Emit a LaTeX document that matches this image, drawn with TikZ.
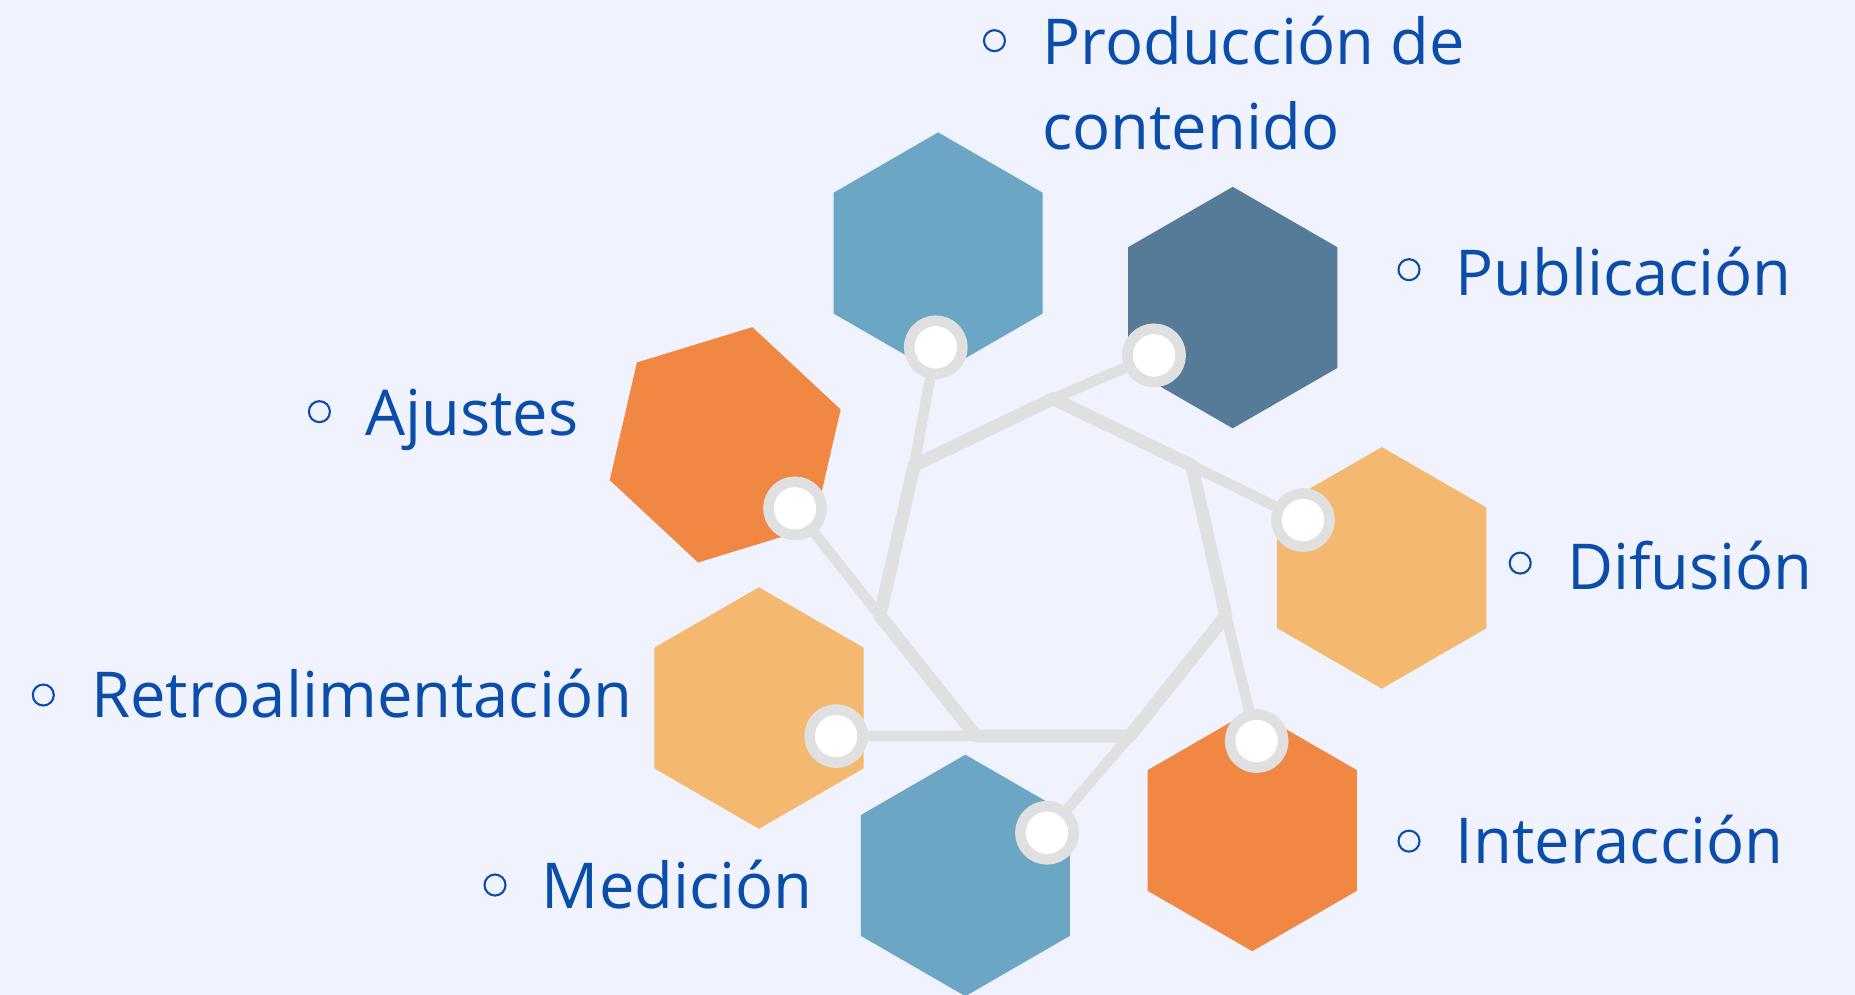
\documentclass[tikz,border=0pt]{standalone}
\usepackage{fontspec}
\setmainfont{Open Sans}
\usetikzlibrary{shapes.geometric}

\definecolor{bgcol}{RGB}{240,243,253}
\definecolor{txtblue}{RGB}{11,77,171}
\definecolor{hexblue}{RGB}{108,166,197}
\definecolor{hexnavy}{RGB}{85,123,152}
\definecolor{hexorange}{RGB}{240,135,67}
\definecolor{hexsand}{RGB}{244,184,112}
\definecolor{linegray}{RGB}{224,224,224}

\begin{document}
\begin{tikzpicture}[x=0.011831cm, y=0.011831cm,
    hexa/.style={regular polygon, regular polygon sides=6, shape border rotate=30,
        minimum size=2.414cm, inner sep=0pt, outer sep=0pt},
    knob/.style={circle, draw=linegray, line width=3pt, fill=white,
        minimum size=0.532cm, inner sep=0pt},
    bullet/.style={circle, draw=txtblue, line width=0.6pt, minimum size=0.21cm, inner sep=0pt},
    itemtxt/.style={anchor=base west, inner sep=0pt, text=txtblue, align=left,
        font=\fontsize{18}{24.2}\selectfont},
    ring/.style={linegray, line width=3.7pt, line join=round},
    spoke/.style={linegray, line width=3pt}]
    \fill[bgcol] (0,0) rectangle (1568,841);
    \useasboundingbox (0,0) rectangle (1568,841);

    % hexagons
    \node[hexa, fill=hexblue] (hxProd) at (793,627) {};
    \node[hexa, fill=hexnavy] (hxPub) at (1042,581) {};
    \node[hexa, fill=hexorange, shape border rotate=17] (hxAju) at (613,465) {};
    \node[hexa, fill=hexsand] (hxDif) at (1168,361) {};
    \node[hexa, fill=hexsand] (hxRet) at (641.5,242.5) {};
    \node[hexa, fill=hexblue] (hxMed) at (816,101) {};
    \node[hexa, fill=hexorange] (hxInt) at (1058.5,139) {};

    % heptagon in the middle
    \coordinate (hA) at ([shift={(90:150)}]890,354);
    \coordinate (hB) at ([shift={(38.57:150)}]890,354);
    \coordinate (hC) at ([shift={(-12.86:150)}]890,354);
    \coordinate (hD) at ([shift={(-64.29:150)}]890,354);
    \coordinate (hE) at ([shift={(-115.71:150)}]890,354);
    \coordinate (hF) at ([shift={(-167.14:150)}]890,354);
    \coordinate (hG) at ([shift={(141.43:150)}]890,354);
    \draw[ring] (hA) -- (hB) -- (hC) -- (hD) -- (hE) -- (hF) -- (hG) -- cycle;

    % knobs
    \node[knob] (kProd) at (791,547.4) {};
    \node[knob] (kPub) at (975.5,540.6) {};
    \node[knob] (kAju) at (672,411.3) {};
    \node[knob] (kDif) at (1101.4,401.4) {};
    \node[knob] (kRet) at (706.8,218.8) {};
    \node[knob] (kMed) at (885,137.1) {};
    \node[knob] (kInt) at (1062.2,214.6) {};

    \draw[spoke] (hA) -- (kPub);
    \draw[spoke] (hB) -- (kDif);
    \draw[spoke] (hC) -- (kInt);
    \draw[spoke] (hD) -- (kMed);
    \draw[spoke] (hE) -- (kRet);
    \draw[spoke] (hF) -- (kAju);
    \draw[spoke] (hG) -- (kProd);

    % labels
    \node[bullet] (bProd) at (840.6,806.6) {};
    \node[itemtxt] (tProd) at (880.5,714.8) {Producción de\\contenido};
    \node[bullet] (bPub) at (1191,613) {};
    \node[itemtxt] (tPub) at (1229.5,591.5) {Publicación};
    \node[bullet] (bAju) at (270,493) {};
    \node[itemtxt] (tAju) at (308,473) {Ajustes};
    \node[bullet] (bDif) at (1285,365) {};
    \node[itemtxt] (tDif) at (1324,343) {Difusión};
    \node[bullet] (bInt) at (1191,130) {};
    \node[itemtxt] (tInt) at (1230,111) {Interacción};
    \node[bullet] (bRet) at (36.6,253.5) {};
    \node[itemtxt] (tRet) at (76.5,234.7) {Retroalimentación};
    \node[bullet] (bMed) at (418.4,92.9) {};
    \node[itemtxt] (tMed) at (457.5,73.2) {Medición};
\end{tikzpicture}
\end{document}
